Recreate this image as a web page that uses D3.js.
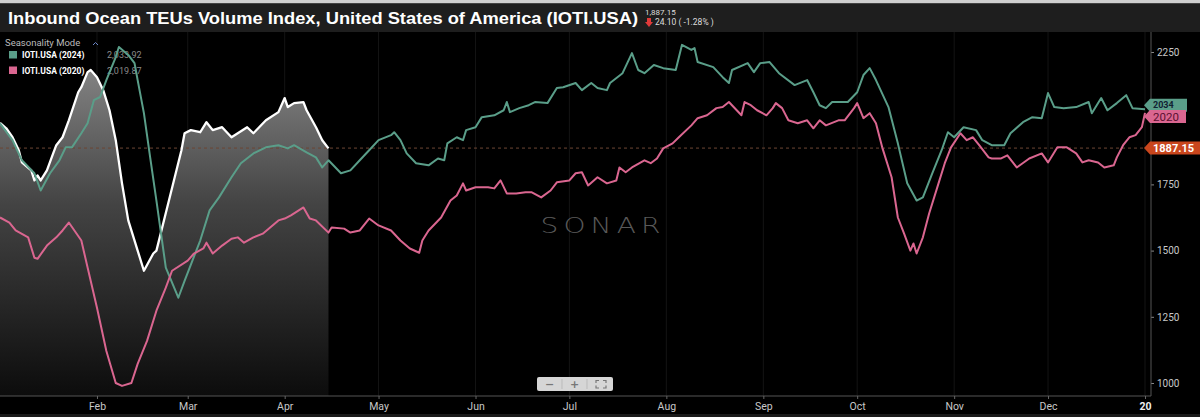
<!DOCTYPE html>
<html><head><meta charset="utf-8">
<script src="https://cdn.jsdelivr.net/npm/d3@7"></script>
<style>
html,body{margin:0;padding:0;background:#000;overflow:hidden}
svg{display:block}
</style></head><body>
<svg id="c" width="1200" height="417"></svg>
<script>
// ---------- DATA ----------
const titleText = "Inbound Ocean TEUs Volume Index, United States of America (IOTI.USA)";
const lastPrice = "1,887.15";
const changeText = "24.10 ( -1.28% )";
const refLevel = 1887.15;
const refLabel = "1887.15";
const legendTitle = "Seasonality Mode";
const seriesNames = ["IOTI.USA (2024)", "IOTI.USA (2020)"];
const seriesLast = ["2,033.92", "2,019.87"];
const tagLabels = ["2034", "2020"];
const monthLabels = ["Feb","Mar","Apr","May","Jun","Jul","Aug","Sep","Oct","Nov","Dec","20"];
const yTicks = [1000, 1250, 1500, 1750, 2000, 2250];
const hiddenTick = 2000; // covered by the price tags in the reference
const watermark = "SONAR";

// day offsets from Jan 1 and index values
const days2025 = [0,2,4,6,7,10,11,12,13,15,17,18,20,22,25,26,28,29,31,33,35,37,39,41,44,46,49,50,54,58,59,61,64,66,68,71,74,79,81,85,89,91,92,94,97,98,101,103,105];
const vals2025 = [1982,1962,1928,1879,1833,1803,1765,1784,1765,1803,1867,1898,1928,1992,2098,2117,2174,2182,2155,2106,2030,1917,1754,1614,1500,1424,1489,1500,1689,1879,1943,1955,1947,1985,1955,1966,1928,1966,1943,1992,2023,2076,2042,2057,2061,2030,1966,1917,1886];

const days2024 = [0,4,7,11,13,16,19,21,23,26,28,30,32,34,37,38,41,43,44,46,48,50,53,57,59,64,67,70,74,77,81,85,89,92,94,98,101,103,105,109,112,115,118,121,125,126,128,130,133,137,140,142,143,146,148,149,152,154,158,161,162,163,166,169,171,175,178,180,184,186,189,191,194,195,199,202,204,206,209,212,216,218,221,222,223,228,231,233,234,239,241,243,246,249,254,258,260,262,264,266,271,274,276,278,280,284,287,290,293,295,298,301,303,305,308,312,314,317,321,323,327,330,333,335,337,340,344,348,349,352,354,357,360,362,366];
const vals2024 = [1981,1917,1841,1792,1727,1792,1841,1890,1890,1943,1981,2068,2080,2144,2231,2269,2239,2208,2144,2019,1852,1689,1436,1322,1386,1538,1652,1701,1777,1830,1867,1890,1898,1886,1898,1871,1852,1814,1841,1792,1803,1841,1879,1917,1936,1947,1917,1867,1830,1822,1848,1841,1905,1928,1917,1955,1966,2004,2011,2030,2061,2023,2038,2049,2061,2057,2114,2117,2133,2106,2133,2114,2106,2133,2170,2246,2182,2170,2201,2189,2182,2277,2258,2265,2212,2193,2155,2133,2182,2208,2174,2208,2212,2170,2125,2144,2098,2049,2038,2061,2061,2098,2163,2189,2144,2042,1905,1754,1689,1701,1792,1879,1947,1928,1966,1955,1917,1898,1898,1943,1985,2004,2000,2095,2042,2038,2042,2061,2019,2076,2030,2057,2087,2038,2034];

const days2020 = [0,3,5,9,11,12,15,18,20,22,26,28,31,34,37,39,42,44,47,50,53,55,60,62,65,66,68,71,74,76,78,81,84,89,91,93,97,99,101,105,106,110,112,115,118,121,125,128,131,134,135,137,141,144,146,148,149,152,156,158,160,162,165,168,170,173,176,178,182,184,186,188,191,194,197,198,200,202,206,208,210,212,215,217,221,223,226,229,231,233,237,238,240,242,245,247,248,250,252,255,258,260,262,264,268,270,273,274,276,278,280,282,285,287,289,291,292,293,295,297,300,302,304,307,309,311,313,316,317,320,322,325,329,333,335,338,341,344,346,348,351,353,356,357,359,361,363,365,366];
const vals2020 = [1625,1606,1576,1550,1473,1469,1519,1550,1576,1606,1538,1436,1284,1121,1000,989,1000,1072,1159,1273,1360,1424,1462,1489,1508,1530,1489,1519,1545,1550,1530,1550,1564,1614,1621,1633,1663,1621,1614,1568,1587,1583,1568,1576,1621,1595,1576,1538,1508,1492,1538,1576,1625,1689,1708,1754,1727,1739,1739,1735,1765,1716,1716,1720,1720,1701,1727,1758,1765,1792,1796,1746,1777,1754,1765,1814,1796,1814,1841,1830,1848,1886,1905,1928,1973,2000,2011,2038,2042,2061,2011,2061,2049,2030,2011,2038,2057,2038,1992,1981,1992,1962,1992,1973,1992,1992,2038,2057,2000,2019,1981,1890,1777,1625,1564,1500,1527,1489,1550,1640,1754,1830,1890,1943,1917,1928,1898,1852,1848,1848,1860,1814,1848,1867,1833,1890,1890,1867,1833,1841,1833,1814,1822,1852,1898,1928,1936,1966,2020];

// ---------- STYLE ----------
const C_TEAL = "#5a9e89", C_PINK = "#da6690", C_WHITE = "#ffffff", C_REF = "#c9461d";
const W = 1200, H = 417;
const plot = {left: 0, right: 1151, top: 32, bottom: 396};

const svg = d3.select("#c");
const base = new Date(2024, 0, 1);
const toDate = d => d3.timeDay.offset(base, d);

const x = d3.scaleTime().domain([base, new Date(2025, 0, 1)]).range([0, 1145]);
const y = d3.scaleLinear().domain([1000, 2250]).range([383, 52]);

// backgrounds
svg.append("rect").attr("width", W).attr("height", H).attr("fill", "#000");
svg.append("rect").attr("x", 0).attr("y", 0).attr("width", W).attr("height", 3.5).attr("fill", "#cfcfcf");
svg.append("rect").attr("x", 0).attr("y", 3.5).attr("width", W).attr("height", plot.top - 3.5).attr("fill", "#1e1e1e");
svg.append("rect").attr("x", 0).attr("y", 414).attr("width", W).attr("height", 3).attr("fill", "#1a1a1a");

const defs = svg.append("defs");
defs.append("clipPath").attr("id", "clip").append("rect")
  .attr("x", plot.left).attr("y", plot.top).attr("width", plot.right - plot.left).attr("height", plot.bottom - plot.top);
const grad = defs.append("linearGradient").attr("id", "g")
  .attr("gradientUnits", "userSpaceOnUse").attr("x1", 0).attr("x2", 0).attr("y1", 45).attr("y2", plot.bottom);
grad.append("stop").attr("offset", 0).attr("stop-color", "#8e8e8e");
grad.append("stop").attr("offset", 0.45).attr("stop-color", "#444");
grad.append("stop").attr("offset", 1).attr("stop-color", "#0c0c0c");

// title
svg.append("text").attr("x", 8).attr("y", 24).text(titleText)
  .attr("fill", "#fff").attr("font-family", "Liberation Sans, Arial, sans-serif")
  .attr("font-weight", "bold").attr("font-size", 16)
  .attr("textLength", 630).attr("lengthAdjust", "spacingAndGlyphs");
svg.append("text").attr("x", 645).attr("y", 15).text(lastPrice)
  .attr("fill", "#ddd").attr("font-family", "Roboto, sans-serif").attr("font-size", 8);
svg.append("path").attr("d", "M647,18 L651,18 L651,22 L653,22 L649,27 L645,22 L647,22 Z").attr("fill", "#e03a3a");
svg.append("text").attr("x", 655).attr("y", 24.5).text(changeText)
  .attr("fill", "#ddd").attr("font-family", "Roboto, sans-serif").attr("font-size", 8.5);

const g = svg.append("g");

// gridlines (faint)
const monthTicks = d3.timeMonth.range(new Date(2024, 1, 1), new Date(2025, 0, 2));
g.append("g").selectAll("line").data(monthTicks).join("line")
  .attr("x1", d => x(d)).attr("x2", d => x(d)).attr("y1", plot.top).attr("y2", plot.bottom)
  .attr("stroke", "#141414").attr("stroke-width", 1);

const lineGen = d3.line().x(d => x(toDate(d[0]))).y(d => y(d[1]));
const zip = (a, b) => a.map((d, i) => [d, b[i]]);
const d25 = zip(days2025, vals2025), d24 = zip(days2024, vals2024), d20 = zip(days2020, vals2020);

// area under current year
const areaGen = d3.area().x(d => x(toDate(d[0]))).y0(plot.bottom).y1(d => y(d[1]));
g.append("path").attr("d", areaGen(d25)).attr("fill", "url(#g)").attr("clip-path", "url(#clip)");

// reference dashed line
g.append("line").attr("x1", 0).attr("x2", plot.right).attr("y1", y(refLevel)).attr("y2", y(refLevel))
  .attr("stroke", "#6d4534").attr("stroke-width", 1).attr("stroke-dasharray", "3,3");

// watermark
g.append("text").attr("x", 603).attr("y", 233).attr("text-anchor", "middle").text(watermark)
  .attr("fill", "#595959").attr("font-family", "DejaVu Sans, sans-serif").attr("font-weight", 200)
  .attr("font-size", 22).attr("textLength", 125).attr("lengthAdjust", "spacingAndGlyphs")
  .attr("letter-spacing", 4);

// legend
const lg = g.append("g").attr("font-family", "Roboto, sans-serif");
lg.append("text").attr("x", 5).attr("y", 46).text(legendTitle).attr("fill", "#bbb").attr("font-size", 9.5);
lg.append("path").attr("d", "M93,45 L95.5,42.5 L98,45").attr("fill", "none").attr("stroke", "#6a86c8").attr("stroke-width", 1);
const legColors = [C_TEAL, C_PINK];
seriesNames.forEach((n, i) => {
  const yy = 55 + i * 15.5;
  lg.append("rect").attr("x", 9).attr("y", yy - 4).attr("width", 8).attr("height", 7.5).attr("fill", legColors[i]);
  lg.append("text").attr("x", 22).attr("y", yy + 3).text(n).attr("fill", "#fff").attr("font-weight", "bold").attr("font-size", 8.5);
  lg.append("text").attr("x", 107).attr("y", yy + 3).text(seriesLast[i]).attr("fill", "#8a8a8a").attr("font-size", 9);
});

// lines
const lines = g.append("g").attr("clip-path", "url(#clip)").attr("fill", "none").attr("stroke-linejoin", "round");
lines.append("path").attr("d", lineGen(d25)).attr("stroke", C_WHITE).attr("stroke-width", 2.3);
lines.append("path").attr("d", lineGen(d24)).attr("stroke", C_TEAL).attr("stroke-width", 2);
lines.append("path").attr("d", lineGen(d20)).attr("stroke", C_PINK).attr("stroke-width", 2);

// axes
const yAxis = d3.axisRight(y).tickValues(yTicks).tickSize(3).tickPadding(3)
  .tickFormat(d => d === hiddenTick ? "" : d3.format("d")(d));
const ya = svg.append("g").attr("transform", `translate(${plot.right},0)`).call(yAxis);
ya.select(".domain").remove();
ya.selectAll("line").attr("stroke", "#888");
ya.selectAll("text").attr("fill", "#c8c8c8").attr("font-family", "Liberation Sans Narrow, Roboto, sans-serif").attr("font-size", 10);
svg.append("line").attr("x1", plot.right).attr("x2", plot.right).attr("y1", plot.top).attr("y2", plot.bottom)
  .attr("stroke", "#555");

const xAxis = d3.axisBottom(x).tickValues(monthTicks).tickSize(3).tickPadding(4)
  .tickFormat((d, i) => monthLabels[i]);
const xa = svg.append("g").attr("transform", `translate(0,${plot.bottom})`).call(xAxis);
xa.select(".domain").attr("stroke", "#555").attr("d", `M0,0H${plot.right}`);
xa.selectAll("line").attr("stroke", "#666");
xa.selectAll("text").attr("fill", "#c8c8c8").attr("font-family", "Liberation Sans Narrow, Roboto, sans-serif").attr("font-size", 10.5);
xa.selectAll("text").filter((d, i) => i === monthLabels.length - 1).attr("font-weight", "bold").attr("fill", "#eee");

// price tags
function tag(yv, w, fill, txt, txtFill, weight, fs, ty) {
  const tg = svg.append("g").attr("transform", `translate(${plot.right - 7},${yv})`);
  const h = 6.5;
  tg.append("path").attr("d", `M0,0 L6,${-h} L${w},${-h} L${w},${h} L6,${h} Z`).attr("fill", fill);
  tg.append("text").attr("x", 9).attr("y", ty).text(txt).attr("fill", txtFill)
    .attr("font-family", "Roboto, sans-serif").attr("font-weight", weight).attr("font-size", fs);
}
tag(y(2033.92) - 4, 43, C_TEAL, tagLabels[0], "#123", "bold", 9, 2.5);
tag(y(2019.87) + 3.5, 42, C_PINK, tagLabels[1], "#5a1030", "normal", 11.5, 4.5);
tag(y(refLevel), 70, C_REF, refLabel, "#fff", "bold", 11, 4);

// zoom control
const zc = svg.append("g").attr("transform", "translate(537,377)");
zc.append("rect").attr("width", 76).attr("height", 14).attr("rx", 2).attr("fill", "#d6d6d6");
zc.append("line").attr("x1", 25).attr("x2", 25).attr("y1", 2).attr("y2", 12).attr("stroke", "#bbb");
zc.append("line").attr("x1", 50).attr("x2", 50).attr("y1", 2).attr("y2", 12).attr("stroke", "#bbb");
zc.append("text").attr("x", 12.5).attr("y", 11).attr("text-anchor", "middle").text("−").attr("fill", "#777").attr("font-family", "DejaVu Sans").attr("font-size", 11).attr("font-weight", "bold");
zc.append("text").attr("x", 37.5).attr("y", 11).attr("text-anchor", "middle").text("+").attr("fill", "#777").attr("font-family", "DejaVu Sans").attr("font-size", 11).attr("font-weight", "bold");
zc.append("path").attr("d", "M59,6 V3.5 H62 M66,3.5 H69 V6 M69,8.5 V11 H66 M62,11 H59 V8.5")
  .attr("fill", "none").attr("stroke", "#777").attr("stroke-width", 1.2);
</script>
</body></html>
